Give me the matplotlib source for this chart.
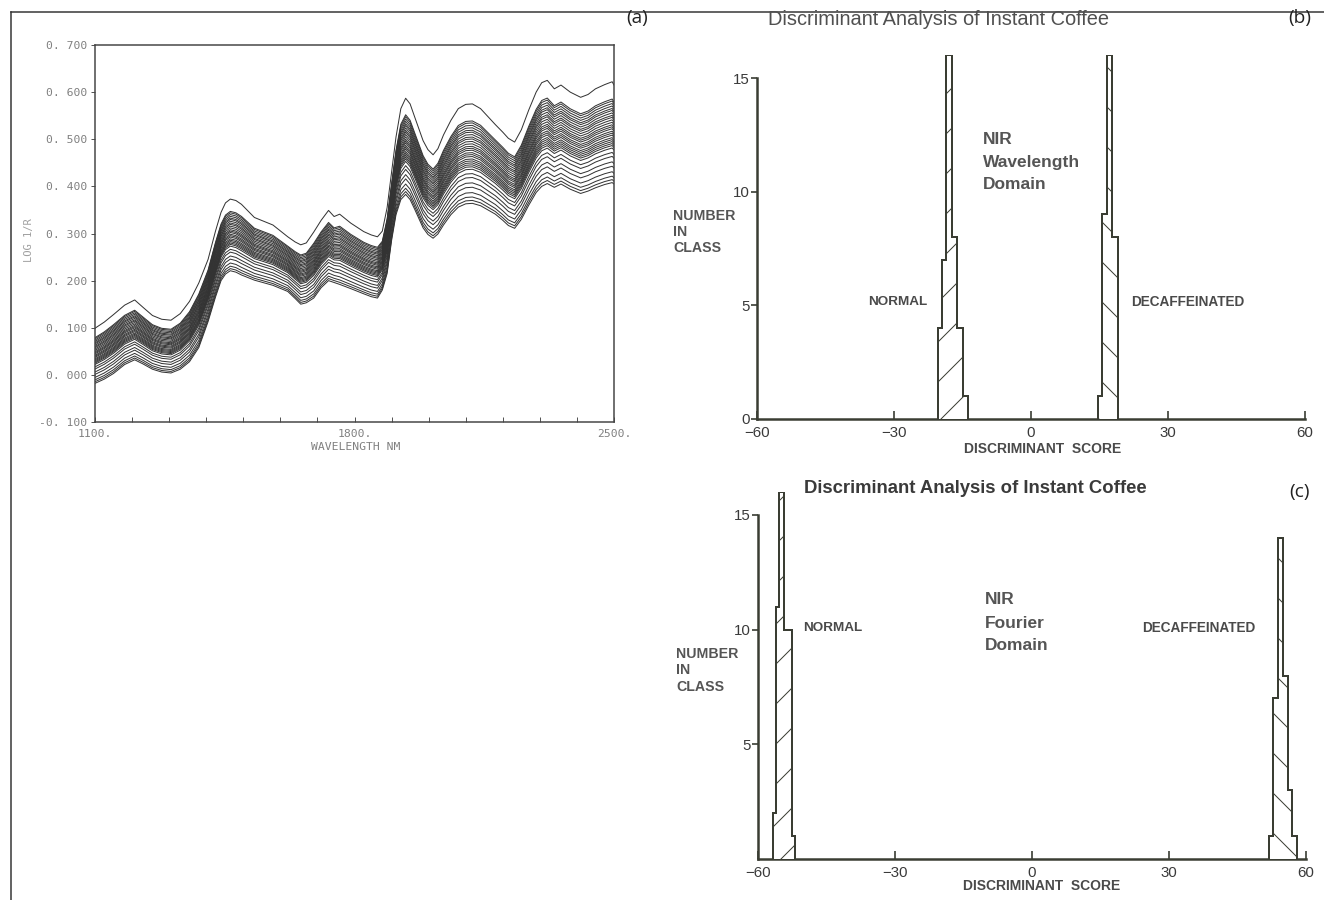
import numpy as np
import matplotlib
matplotlib.use("Agg")
import matplotlib.pyplot as plt
from matplotlib.lines import Line2D

# ---------------- data ----------------
# panel (a): NIR spectra (log 1/R): upper and lower envelope
wavelength_nm = [1100, 1125, 1150, 1180, 1207, 1230, 1255, 1280, 1305, 1330, 1355,
                 1380, 1405, 1425, 1440, 1452, 1465, 1480, 1495, 1530, 1580, 1620,
                 1640, 1655, 1670, 1690, 1710, 1730, 1745, 1760, 1790, 1825, 1845,
                 1862, 1875, 1888, 1900, 1912, 1925, 1938, 1950, 1962, 1985, 1998,
                 2012, 2025, 2040, 2060, 2080, 2100, 2118, 2140, 2160, 2180, 2200,
                 2215, 2232, 2250, 2270, 2290, 2305, 2320, 2339, 2357, 2382, 2410,
                 2430, 2450, 2475, 2495, 2500]
spec_upper = [0.099, 0.112, 0.128, 0.148, 0.159, 0.143, 0.126, 0.118, 0.116, 0.130, 0.156,
              0.195, 0.245, 0.305, 0.345, 0.365, 0.373, 0.370, 0.362, 0.334, 0.318, 0.293,
              0.282, 0.276, 0.280, 0.303, 0.328, 0.349, 0.336, 0.341, 0.322, 0.304, 0.297,
              0.293, 0.305, 0.355, 0.430, 0.505, 0.565, 0.587, 0.575, 0.548, 0.497, 0.478,
              0.467, 0.480, 0.509, 0.540, 0.565, 0.574, 0.575, 0.565, 0.548, 0.531, 0.515,
              0.502, 0.494, 0.520, 0.562, 0.600, 0.620, 0.625, 0.607, 0.615, 0.600, 0.589,
              0.595, 0.607, 0.616, 0.622, 0.615]
spec_lower = [-0.018, -0.009, 0.003, 0.022, 0.032, 0.023, 0.012, 0.006, 0.004, 0.012, 0.028,
              0.058, 0.113, 0.165, 0.200, 0.214, 0.221, 0.218, 0.212, 0.201, 0.190, 0.177,
              0.162, 0.150, 0.153, 0.163, 0.185, 0.200, 0.196, 0.192, 0.183, 0.172, 0.166,
              0.163, 0.180, 0.215, 0.285, 0.340, 0.372, 0.383, 0.372, 0.352, 0.312, 0.298,
              0.290, 0.299, 0.318, 0.340, 0.356, 0.363, 0.364, 0.359, 0.350, 0.341, 0.328,
              0.317, 0.311, 0.330, 0.360, 0.387, 0.400, 0.406, 0.398, 0.405, 0.394, 0.385,
              0.390, 0.397, 0.404, 0.408, 0.405]
# level of every sample spectrum at the 1938 nm water peak
sample_peak_values = [0.587, 0.552, 0.548, 0.543, 0.538, 0.533, 0.529, 0.524, 0.519,
                      0.515, 0.510, 0.505, 0.500, 0.496, 0.492, 0.487, 0.483, 0.479,
                      0.474, 0.470, 0.466, 0.462, 0.458, 0.453, 0.444, 0.436, 0.425,
                      0.416, 0.405, 0.396, 0.389, 0.383]
a_xticks = [1100, 1800, 2500]
a_xticklabels = ["1100.", "1800.", "2500."]
a_yticks = [-0.1, 0.0, 0.1, 0.2, 0.3, 0.4, 0.5, 0.6, 0.7]
a_yticklabels = ["-0. 100", "0. 000", "0. 100", "0. 200", "0. 300", "0. 400",
                 "0. 500", "0. 600", "0. 700"]

# panel (b): wavelength domain discriminant scores
b_normal_edges = [-20.3, -19.4, -18.7, -17.4, -16.1, -15.0, -13.9]
b_normal_counts = [4, 7, 16, 8, 4, 1]
b_decaf_edges = [14.7, 15.5, 16.6, 17.7, 19.0]
b_decaf_counts = [1, 9, 16, 8]

# panel (c): Fourier domain discriminant scores
c_normal_edges = [-56.8, -56.1, -55.3, -54.2, -52.6, -51.8]
c_normal_counts = [2, 11, 16, 10, 1]
c_decaf_edges = [51.9, 52.7, 53.9, 55.0, 56.1, 57.0, 58.1]
c_decaf_counts = [1, 7, 14, 8, 3, 1]

score_ticks = [-60, -30, 0, 30, 60]

# ---------------- figure ----------------
W, H, DPI = 1324, 900, 120
HC = "#3a3d33"
plt.rcParams["hatch.linewidth"] = 0.6
plt.rcParams["hatch.color"] = HC

fig = plt.figure(figsize=(W / DPI, H / DPI), dpi=DPI)
fig.patch.set_facecolor("white")


def rect(l, t, r, b):
    return [l / W, 1 - b / H, (r - l) / W, (b - t) / H]


def ftext(x, y, s, **kw):
    fig.text(x / W, 1 - y / H, s, **kw)


# outer frame lines
fig.add_artist(Line2D([11 / W, 1], [1 - 11.5 / H, 1 - 11.5 / H], transform=fig.transFigure,
                      color="#333333", lw=0.9))
fig.add_artist(Line2D([11 / W, 11 / W], [0, 1 - 11.5 / H], transform=fig.transFigure,
                      color="#333333", lw=0.9))

# ---------- panel (a) ----------
axa = fig.add_axes(rect(95, 45, 614, 422))
wl = np.array(wavelength_nm)
up = np.array(spec_upper)
lo = np.array(spec_lower)
ipk = wavelength_nm.index(1938)
for v in sample_peak_values:
    f = (v - lo[ipk]) / (up[ipk] - lo[ipk])
    axa.plot(wl, lo + f * (up - lo), color="#333333", lw=0.6, solid_joinstyle="round")
axa.set_xlim(1100, 2500)
axa.set_ylim(-0.1, 0.7)
for sp in axa.spines.values():
    sp.set_color("#444444")
    sp.set_linewidth(0.9)
axa.set_xticks(a_xticks)
axa.set_xticklabels(a_xticklabels)
axa.set_xticks(list(range(1100, 2501, 100)), minor=True)
axa.set_yticks(a_yticks)
axa.set_yticklabels(a_yticklabels)
axa.tick_params(axis="x", which="both", direction="in", length=3, width=0.6,
                color="#555555", pad=4)
axa.tick_params(axis="y", direction="out", length=2.5, width=0.6, color="#555555", pad=2)
for lab in axa.get_xticklabels() + axa.get_yticklabels():
    lab.set_fontfamily("DejaVu Sans Mono")
    lab.set_fontsize(6.8)
    lab.set_color("#808080")
ftext(356, 447, "WAVELENGTH NM", family="DejaVu Sans Mono", fontsize=6.8,
      color="#808080", ha="center", va="center")
ftext(29, 240, "LOG 1/R", family="DejaVu Sans Mono", fontsize=6.2,
      color="#a0a0a0", ha="center", va="center", rotation=90)
ftext(637, 18, "(a)", family="Open Sans", fontsize=11.5, color="#222222",
      ha="center", va="center")


# ---------- histogram panels ----------
def hist_axes(r, yt, ytl):
    ax = fig.add_axes(r)
    ax.set_xlim(-60, 60)
    ax.set_ylim(0, 16)
    ax.spines["top"].set_visible(False)
    ax.spines["right"].set_visible(False)
    for s in ("left", "bottom"):
        ax.spines[s].set_color(HC)
        ax.spines[s].set_linewidth(1.5)
    ax.spines["left"].set_bounds(0, 15)
    ax.set_xticks(score_ticks)
    ax.set_xticklabels(["\u221260", "\u221230", "0", "30", "60"])
    ax.set_yticks(yt)
    ax.set_yticklabels(ytl)
    ax.tick_params(axis="x", direction="in", length=5, width=1.0, color=HC, pad=4,
                   labelsize=9, labelcolor="#3a3a3a")
    ax.tick_params(axis="y", direction="out", length=3.5, width=1.0, color=HC, pad=1,
                   labelsize=9, labelcolor="#3a3a3a")
    for lab in ax.get_xticklabels() + ax.get_yticklabels():
        lab.set_fontfamily("Liberation Sans")
    ax.patch.set_alpha(0)
    return ax


def draw_hist(ax, counts, edges, hatch):
    ax.stairs(counts, edges, baseline=0, fill=True, facecolor="white",
              edgecolor=HC, hatch=hatch, linewidth=1.2, zorder=3)


axb = hist_axes(rect(757, 55.3, 1305, 419), [0, 5, 10, 15], ["0", "5", "10", "15"])
draw_hist(axb, b_normal_counts, b_normal_edges, "/")
draw_hist(axb, b_decaf_counts, b_decaf_edges, "\\")

axc = hist_axes(rect(758, 492, 1306, 859), [5, 10, 15], ["5", "10", "15"])
draw_hist(axc, c_normal_counts, c_normal_edges, "/")
draw_hist(axc, c_decaf_counts, c_decaf_edges, "\\")

TF = "Liberation Sans"
TXT = "#4a4a4a"
# panel (b) texts
ftext(939, 19.5, "Discriminant Analysis of Instant Coffee", family=TF, fontsize=12.0,
      color="#505050", ha="center", va="center")
ftext(1300, 18, "(b)", family="Open Sans", fontsize=11.5, color="#222222",
      ha="center", va="center")
for s, y in zip(["NIR", "Wavelength", "Domain"], [140, 162, 185]):
    ftext(983, y, s, family=TF, fontsize=10.4, fontweight="bold", color="#555555",
          va="center", ha="left")
for s, y in zip(["NUMBER", "IN", "CLASS"], [216, 232, 248]):
    ftext(673, y, s, family=TF, fontsize=8.5, fontweight="bold", color="#555555",
          va="center", ha="left")
ftext(898, 302, "NORMAL", family=TF, fontsize=8.1, fontweight="bold", color=TXT,
      ha="center", va="center")
ftext(1131, 302, "DECAFFEINATED", family=TF, fontsize=8.2, fontweight="bold", color=TXT,
      ha="left", va="center")
ftext(1043, 449, "DISCRIMINANT  SCORE", family=TF, fontsize=8.3, fontweight="bold",
      color=TXT, ha="center", va="center")

# panel (c) texts
ftext(975, 488, "Discriminant Analysis of Instant Coffee", family=TF, fontsize=11.1,
      fontweight="bold", color="#3a3a3a", ha="center", va="center")
ftext(1300, 492, "(c)", family="Open Sans", fontsize=11.5, color="#222222",
      ha="center", va="center")
for s, y in zip(["NIR", "Fourier", "Domain"], [600, 623, 646]):
    ftext(985, y, s, family=TF, fontsize=10.4, fontweight="bold", color="#555555",
          va="center", ha="left")
for s, y in zip(["NUMBER", "IN", "CLASS"], [654, 670, 687]):
    ftext(676, y, s, family=TF, fontsize=8.5, fontweight="bold", color="#555555",
          va="center", ha="left")
ftext(803, 628, "NORMAL", family=TF, fontsize=8.1, fontweight="bold", color=TXT,
      ha="left", va="center")
ftext(1142, 628, "DECAFFEINATED", family=TF, fontsize=8.2, fontweight="bold", color=TXT,
      ha="left", va="center")
ftext(1042, 886, "DISCRIMINANT  SCORE", family=TF, fontsize=8.3, fontweight="bold",
      color=TXT, ha="center", va="center")

fig.savefig("out.png", dpi=DPI, facecolor="white")
